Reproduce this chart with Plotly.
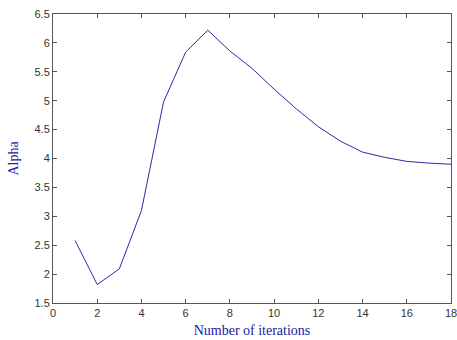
import plotly.graph_objects as go

iterations = list(range(1, 19))
alpha = [2.58, 1.82, 2.09, 3.10, 4.98, 5.84, 6.22, 5.86, 5.56, 5.20, 4.86, 4.55, 4.30, 4.11, 4.02, 3.95, 3.92, 3.90]

x_ticks = [0, 2, 4, 6, 8, 10, 12, 14, 16, 18]
y_ticks = [1.5, 2, 2.5, 3, 3.5, 4, 4.5, 5, 5.5, 6, 6.5]

fig = go.Figure(go.Scatter(x=iterations, y=alpha, mode="lines",
                           line=dict(color="#2a2aa8", width=1)))

axis_common = dict(showgrid=False, zeroline=False, showline=True, mirror="ticks",
                   linecolor="#555555", linewidth=1, ticks="inside", ticklen=4,
                   tickcolor="#555555", ticklabeloverflow="allow", automargin=False,
                   tickfont=dict(family="Liberation Sans, Arial", size=11, color="#333333"))

fig.update_xaxes(range=[0, 18], tickvals=x_ticks, ticktext=[str(v) for v in x_ticks],
                 title=dict(text="Number of iterations", standoff=6,
                            font=dict(family="Liberation Serif, Times New Roman", size=14, color="#2020a0")),
                 **axis_common)
fig.update_yaxes(range=[1.5, 6.5], tickvals=y_ticks, ticktext=[f"{v:g}" for v in y_ticks],
                 title=dict(text="Alpha", standoff=12,
                            font=dict(family="Liberation Serif, Times New Roman", size=14, color="#2020a0")),
                 **axis_common)

fig.update_layout(width=457, height=340, margin=dict(l=53, r=6, t=14, b=37),
                  plot_bgcolor="white", paper_bgcolor="white", showlegend=False)

fig.write_html("out.html")
